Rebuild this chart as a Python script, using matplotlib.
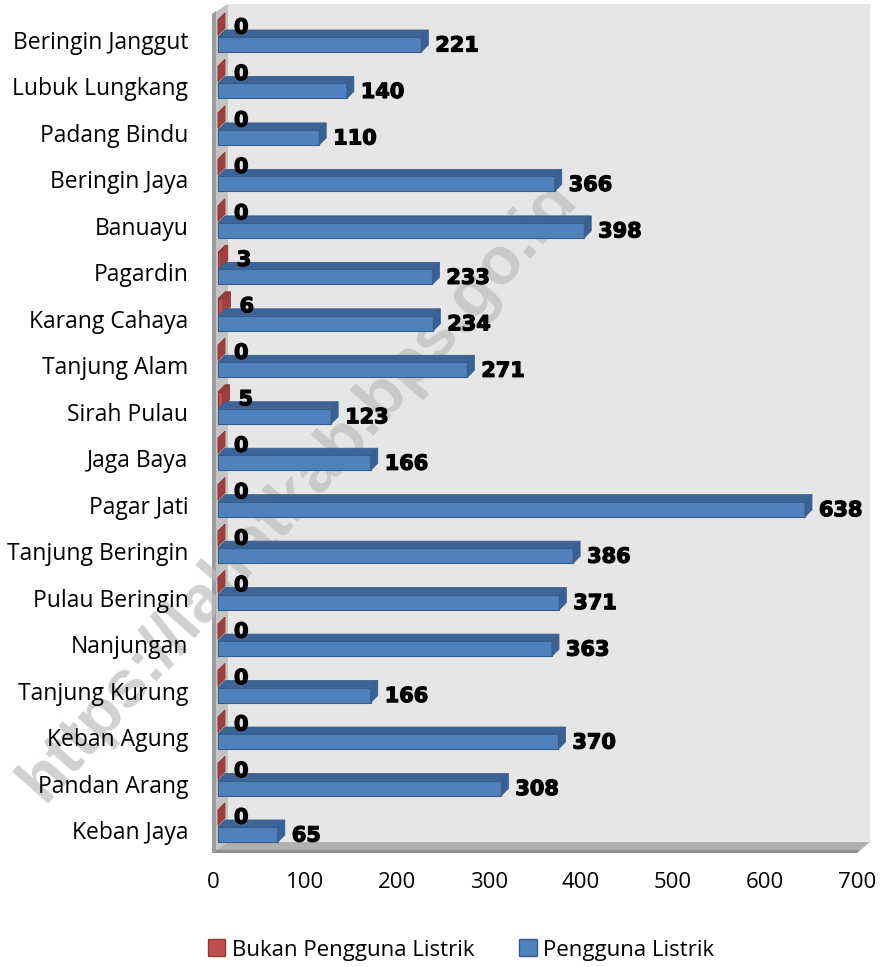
import matplotlib
matplotlib.use("Agg")
import matplotlib.pyplot as plt
from matplotlib.patches import Polygon, Patch
import matplotlib.patheffects as pe

categories = ["Beringin Janggut", "Lubuk Lungkang", "Padang Bindu", "Beringin Jaya",
              "Banuayu", "Pagardin", "Karang Cahaya", "Tanjung Alam", "Sirah Pulau",
              "Jaga Baya", "Pagar Jati", "Tanjung Beringin", "Pulau Beringin",
              "Nanjungan", "Tanjung Kurung", "Keban Agung", "Pandan Arang", "Keban Jaya"]
bukan = [0, 0, 0, 0, 0, 3, 6, 0, 5, 0, 0, 0, 0, 0, 0, 0, 0, 0]
pengguna = [221, 140, 110, 366, 398, 233, 234, 271, 123, 166, 638, 386, 371, 363, 166, 370, 308, 65]
series_names = ["Bukan Pengguna Listrik", "Pengguna Listrik"]
xticks = [0, 100, 200, 300, 400, 500, 600, 700]

W, H = 880, 967
fig = plt.figure(figsize=(W / 100, H / 100), dpi=100)

# pixel geometry
px_left, px_right, px_top, px_bot = 212, 870, 4, 853
kx = (857 - 213) / 700.0          # px per value unit
ky = 46.47                         # px per category
cy0 = 40                           # first category centre px
ax = fig.add_axes([px_left / W, 1 - px_bot / H, (px_right - px_left) / W, (px_bot - px_top) / H])
ax.set_xlim(-1 / kx, (px_right - 213) / kx)
ax.set_ylim((px_bot - cy0) / ky, (px_top - cy0) / ky)
ax.set_facecolor("none")
for s in ax.spines.values():
    s.set_visible(False)

def vx(px):
    return (px - 213) / kx

def vy(py):
    return (py - cy0) / ky

# walls
wall_dx = vx(228)
back = Polygon([(wall_dx, vy(4)), (vx(870), vy(4)), (vx(870), vy(842)), (wall_dx, vy(842))],
               closed=True, facecolor="#e6e6e6", edgecolor="none", zorder=0.2)
ax.add_patch(back)
left_wall = Polygon([(vx(212), vy(14)), (wall_dx, vy(4)), (wall_dx, vy(842)), (vx(212), vy(853))],
                    closed=True, facecolor="#c4c4c4", edgecolor="none", zorder=0.3)
ax.add_patch(left_wall)
left_edge = Polygon([(vx(212), vy(14)), (vx(216), vy(11)), (vx(216), vy(850)), (vx(212), vy(853))],
                    closed=True, facecolor="#9c9c9c", edgecolor="none", zorder=0.35)
ax.add_patch(left_edge)
floor = Polygon([(vx(212), vy(853)), (wall_dx, vy(842)), (vx(870), vy(842)), (vx(857), vy(853))],
                closed=True, facecolor="#b0b0b0", edgecolor="none", zorder=0.3)
ax.add_patch(floor)
floor_edge = Polygon([(vx(212), vy(853)), (vx(216), vy(850)), (vx(860), vy(850)), (vx(857), vy(853))],
                     closed=True, facecolor="#8e8e8e", edgecolor="none", zorder=0.35)
ax.add_patch(floor_edge)

# watermark
ax.text(298 / W, 1 - 490 / H, "https://lahatkab.bps.go.id", transform=fig.transFigure,
        rotation=48.5, ha="center", va="center", fontsize=48, fontweight="bold",
        family="Liberation Sans", color="#bdbdbd", alpha=0.7, zorder=0.5, clip_on=False)

# bars
x0 = vx(218)
bh = 15 / ky
ddx = 7 / kx
ddy = -7 / ky
off_red = -12.5 / ky
off_blue = 4.5 / ky
ypos = list(range(len(categories)))

def bar3d(values, offset, front, top, side, edge, z):
    yc = [y + offset for y in ypos]
    ax.barh(yc, values, height=bh, left=x0, color=front, edgecolor=edge, linewidth=0.8, zorder=z)
    for v, c in zip(values, yc):
        t = c - bh / 2
        b = c + bh / 2
        e = x0 + v
        ax.add_patch(Polygon([(x0, t), (e, t), (e + ddx, t + ddy), (x0 + ddx, t + ddy)],
                             closed=True, facecolor=top, edgecolor=edge, linewidth=0.6, zorder=z))
        ax.add_patch(Polygon([(e, t), (e, b), (e + ddx, b + ddy), (e + ddx, t + ddy)],
                             closed=True, facecolor=side, edgecolor=edge, linewidth=0.6, zorder=z + 0.01))
    return yc

yc_red = bar3d(bukan, off_red, "#c0504d", "#9b3b39", "#a23f3c", "#8c3836", 2)
yc_blue = bar3d(pengguna, off_blue, "#4f81bd", "#3d6496", "#3a6194", "#385d8a", 2.2)

lab_font = dict(fontsize=15, fontweight="bold", family="DejaVu Sans", color="black", zorder=4,
                path_effects=[pe.withStroke(linewidth=0.9, foreground="black")])
for v, c in zip(bukan, yc_red):
    ax.annotate(str(v), (x0 + v + ddx, c), xytext=(9, 0), textcoords="offset pixels",
                ha="left", va="center", **lab_font)
for v, c in zip(pengguna, yc_blue):
    ax.annotate(str(v), (x0 + v + ddx, c), xytext=(7, -1), textcoords="offset pixels",
                ha="left", va="center", **lab_font)

ax.set_yticks(ypos)
ax.set_yticklabels(categories, family="Open Sans", fontsize=16.5)
ax.set_xticks(xticks)
ax.set_xticklabels([str(t) for t in xticks], family="Open Sans", fontsize=16)
ax.tick_params(axis="y", length=0, pad=17)
ax.tick_params(axis="x", length=0, pad=14)

handles = [Patch(facecolor="#c0504d", edgecolor="#8c3836", linewidth=1),
           Patch(facecolor="#4f81bd", edgecolor="#385d8a", linewidth=1)]
fig.legend(handles, series_names, loc="center", bbox_to_anchor=(461 / W, 1 - 950 / H), ncol=2,
           frameon=False, prop={"family": "Open Sans", "size": 16}, handlelength=0.8, handleheight=0.8,
           handletextpad=0.3, columnspacing=2.0)

fig.savefig("out.png", dpi=100)
